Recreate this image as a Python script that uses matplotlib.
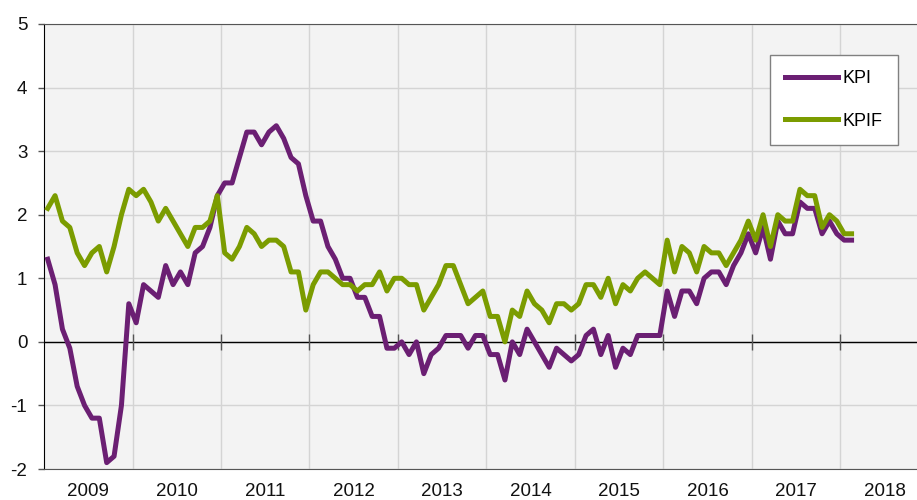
import numpy as np
import matplotlib
matplotlib.use("Agg")
from matplotlib import pyplot as plt

# monthly inflation, Jan 2009 - Feb 2018
kpi = [1.3, 0.9, 0.2, -0.1, -0.7, -1.0, -1.2, -1.2, -1.9, -1.8, -1.0, 0.6,
       0.3, 0.9, 0.8, 0.7, 1.2, 0.9, 1.1, 0.9, 1.4, 1.5, 1.8, 2.3,
       2.5, 2.5, 2.9, 3.3, 3.3, 3.1, 3.3, 3.4, 3.2, 2.9, 2.8, 2.3,
       1.9, 1.9, 1.5, 1.3, 1.0, 1.0, 0.7, 0.7, 0.4, 0.4, -0.1, -0.1,
       0.0, -0.2, 0.0, -0.5, -0.2, -0.1, 0.1, 0.1, 0.1, -0.1, 0.1, 0.1,
       -0.2, -0.2, -0.6, 0.0, -0.2, 0.2, 0.0, -0.2, -0.4, -0.1, -0.2, -0.3,
       -0.2, 0.1, 0.2, -0.2, 0.1, -0.4, -0.1, -0.2, 0.1, 0.1, 0.1, 0.1,
       0.8, 0.4, 0.8, 0.8, 0.6, 1.0, 1.1, 1.1, 0.9, 1.2, 1.4, 1.7,
       1.4, 1.8, 1.3, 1.9, 1.7, 1.7, 2.2, 2.1, 2.1, 1.7, 1.9, 1.7,
       1.6, 1.6]
kpif = [2.1, 2.3, 1.9, 1.8, 1.4, 1.2, 1.4, 1.5, 1.1, 1.5, 2.0, 2.4,
        2.3, 2.4, 2.2, 1.9, 2.1, 1.9, 1.7, 1.5, 1.8, 1.8, 1.9, 2.3,
        1.4, 1.3, 1.5, 1.8, 1.7, 1.5, 1.6, 1.6, 1.5, 1.1, 1.1, 0.5,
        0.9, 1.1, 1.1, 1.0, 0.9, 0.9, 0.8, 0.9, 0.9, 1.1, 0.8, 1.0,
        1.0, 0.9, 0.9, 0.5, 0.7, 0.9, 1.2, 1.2, 0.9, 0.6, 0.7, 0.8,
        0.4, 0.4, 0.0, 0.5, 0.4, 0.8, 0.6, 0.5, 0.3, 0.6, 0.6, 0.5,
        0.6, 0.9, 0.9, 0.7, 1.0, 0.6, 0.9, 0.8, 1.0, 1.1, 1.0, 0.9,
        1.6, 1.1, 1.5, 1.4, 1.1, 1.5, 1.4, 1.4, 1.2, 1.4, 1.6, 1.9,
        1.6, 2.0, 1.5, 2.0, 1.9, 1.9, 2.4, 2.3, 2.3, 1.8, 2.0, 1.9,
        1.7, 1.7]
years = [str(y) for y in range(2009, 2019)]

plt.rcParams['font.family'] = ['Liberation Sans', 'DejaVu Sans']
plt.rcParams['axes.unicode_minus'] = False

fig = plt.figure(figsize=(9.17, 5.0), dpi=100)
ax = fig.add_axes([44 / 917, 31 / 500, 873 / 917, 445 / 500])
ax.set_facecolor('#f3f3f3')

x = np.arange(len(kpi))
ax.plot(x, kpi, color='#6b1f73', lw=3.6, label='KPI', zorder=3)
ax.plot(x, kpif, color='#7b9c00', lw=3.6, label='KPIF', zorder=3)

ax.set_xlim(-0.5, -0.5 + 873 / 7.375)
ax.set_ylim(-2, 5)

# year labels centred in each year, gridlines on year boundaries
ax.set_xticks(np.arange(len(years)) * 12 + 5.5)
ax.set_xticklabels(years)
ax.set_xticks(np.arange(1, len(years)) * 12 - 0.5, minor=True)
ax.tick_params(axis='x', which='both', length=0, pad=10, labelsize=13.5, labelcolor='#111111')
ax.grid(axis='x', which='minor', color='#d4d4d4', lw=1.0)

ax.set_yticks(range(-2, 6))
ax.tick_params(axis='y', length=4, width=1, color='#555555', pad=8, labelsize=13.5, labelcolor='#111111')
ax.grid(axis='y', which='major', color='#d4d4d4', lw=1.0)
ax.set_axisbelow(True)

ax.axhline(0, color='black', lw=1.0, zorder=2)
ax.plot(np.arange(1, len(years)) * 12 - 0.5, np.zeros(len(years) - 1), '|',
        ms=12, mew=1.0, color='#555555', zorder=2)

ax.spines['left'].set_color('black')
for s in ['top', 'bottom']:
    ax.spines[s].set_color('#555555')
ax.spines['right'].set_visible(False)

leg = ax.legend(loc='upper left', bbox_to_anchor=((770 - 44) / 873, (469 - 55) / 445),
                fancybox=False, frameon=True, edgecolor='#808080', facecolor='white',
                framealpha=1, fontsize=13, handlelength=2.9, handletextpad=0.25,
                labelspacing=1.4, borderpad=0.85, borderaxespad=0)
leg.get_frame().set_linewidth(1.0)

fig.savefig('out.png', dpi=100)
